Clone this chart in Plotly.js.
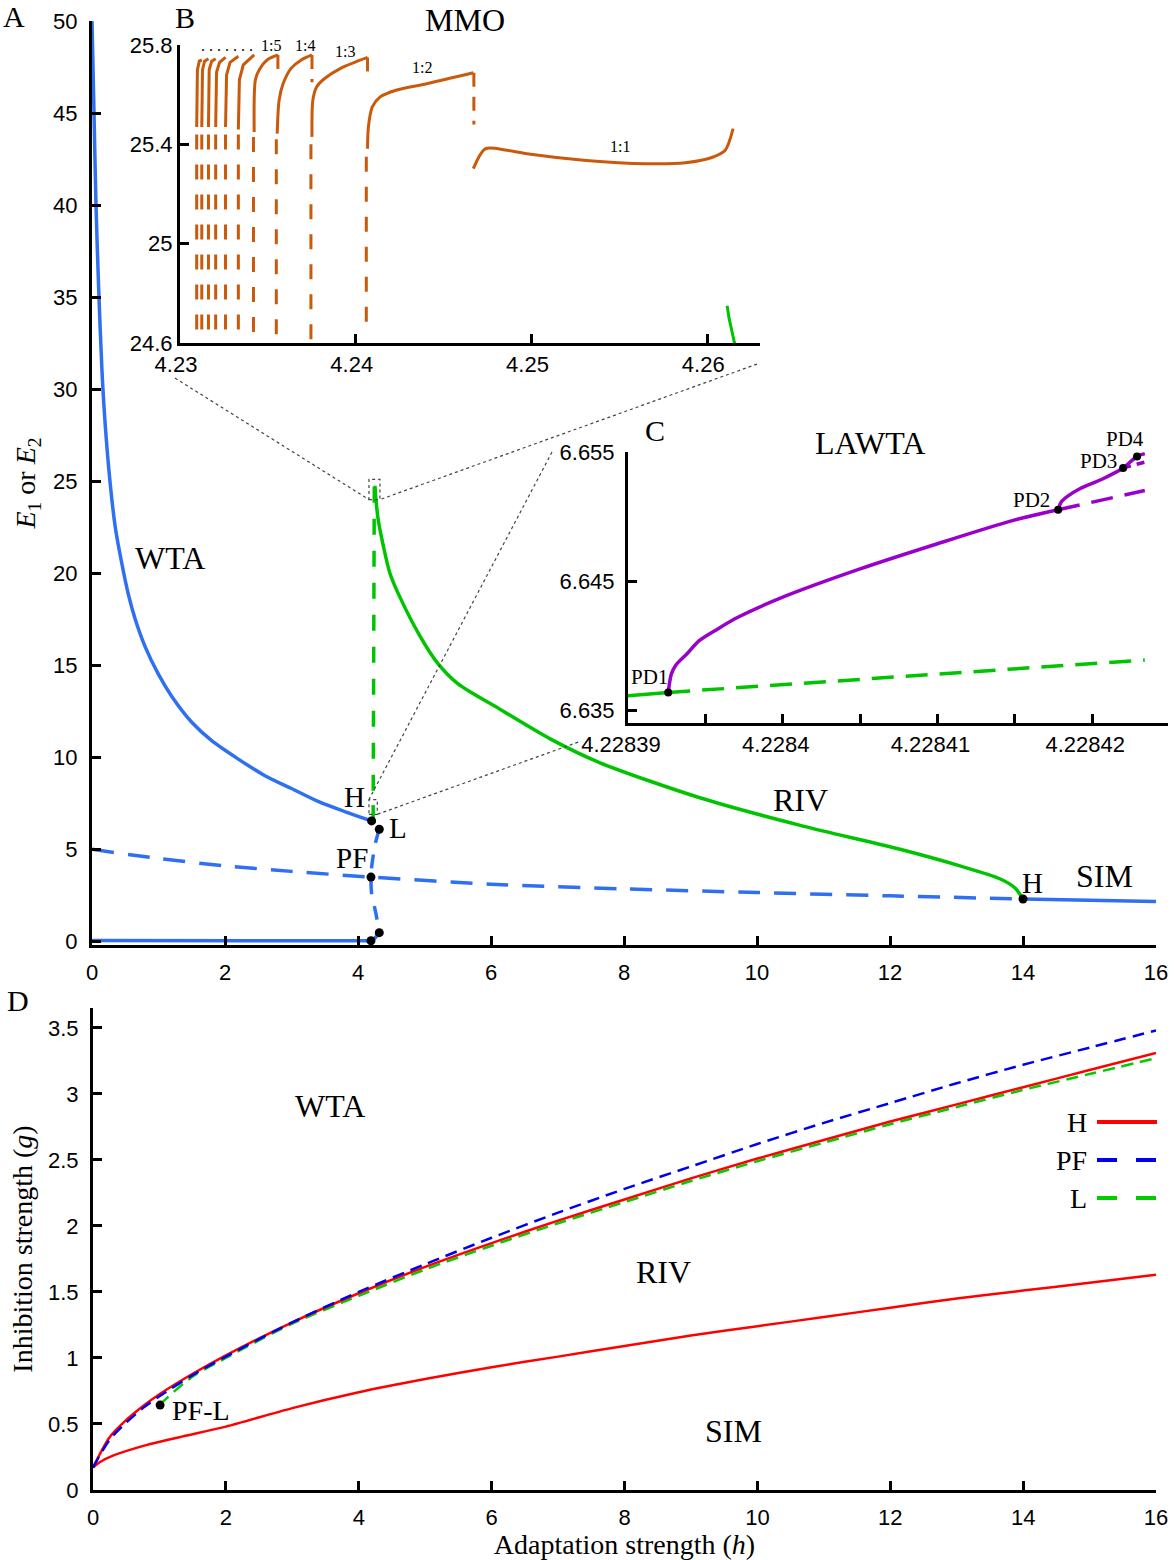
<!DOCTYPE html>
<html><head><meta charset="utf-8">
<script src="https://cdn.plot.ly/plotly-3.0.1.min.js"></script>
<style>html,body{margin:0;padding:0;background:#fff}#plot{width:1176px;height:1560px}</style>
</head><body><div id="plot"></div>
<script>
// ---------- Panel A: E1 or E2 vs h ----------
const wtaH=[0,0.03,0.06,0.1,0.15,0.2,0.27,0.35,0.45,0.55,0.65,0.8,1.0,1.2,1.5,1.8,2.2,2.6,3.0,3.4,3.8,4.205];
const wtaE=[50,45,40,35.5,31,28,25,22.5,20.5,18.8,17.5,16,14.5,13.3,11.9,10.9,9.9,9.0,8.3,7.6,7.05,6.54];
const midH=[0,1,2,3,4.195,6,8,10,12,14];
const midE=[5.0,4.5,4.1,3.8,3.49,3.1,2.85,2.65,2.47,2.3];
const simH=[14,15,16];
const simE=[2.3,2.23,2.17];
const botH=[0,2,4.195,4.26,4.32];
const botE=[0.04,0.04,0.03,0.2,0.47];
const lpfH=[4.32,4.26,4.205,4.195,4.205,4.27,4.32];
const lpfE=[6.09,5.3,4.03,3.49,2.6,1.5,0.47];
const rivH=[4.255,4.27,4.30,4.38,4.48,4.63,4.93,5.2,5.5,6.14,6.89,7.64,9.14,10.65,12.15,13.05,13.65,13.88,14.0];
const rivE=[24.75,24.0,23.0,21.5,20.0,18.7,16.6,15.1,14.0,12.6,11.0,9.7,7.8,6.3,5.0,4.1,3.4,2.9,2.3];
const stemH=[4.245,4.228];
const stemE=[24.7,7.4];
const lawtaH=[4.228,4.228];
const lawtaE=[7.4,6.7];
const bifH=[4.205,4.32,4.195,4.195,4.32,14.0];
const bifE=[6.54,6.09,3.49,0.03,0.47,2.3];
const mainLabels=['WTA','RIV','SIM','H','L','PF','H'];
const mainLabH=[1.17,10.65,15.23,3.95,4.6,3.91,14.15];
const mainLabE=[20.8,7.66,3.53,7.83,6.14,4.51,3.15];

// ---------- Panel B: MMO inset ----------
const mmoSolidH=[
 [4.23095,4.23099,4.23110,4.23124],
 [4.23124,4.23128,4.23140,4.23162],
 [4.23162,4.23166,4.23180,4.23203],
 [4.23203,4.23208,4.23225,4.23259],
 [4.23259,4.23265,4.23285,4.23332],
 [4.23332,4.23338,4.23360,4.23422],
 [4.23422,4.23429,4.23451,4.23496,4.23557],
 [4.23553,4.23564,4.23587,4.23632,4.23688,4.23751],
 [4.23751,4.23756,4.23778,4.23823,4.23914,4.24067],
 [4.24067,4.24072,4.24094,4.24139,4.24229,4.24410,4.24669],
 [4.24669,4.24737,4.24861,4.24974,4.25312,4.25651,4.25876,4.26034,4.26102,4.26147]
];
const mmoSolidE=[
 [25.47,25.70,25.735,25.74],
 [25.47,25.70,25.735,25.745],
 [25.47,25.70,25.735,25.745],
 [25.47,25.69,25.73,25.75],
 [25.47,25.68,25.73,25.755],
 [25.46,25.66,25.72,25.76],
 [25.45,25.66,25.70,25.74,25.76],
 [25.443,25.578,25.645,25.706,25.739,25.760],
 [25.430,25.578,25.632,25.665,25.706,25.750],
 [25.382,25.470,25.551,25.591,25.618,25.645,25.688],
 [25.302,25.382,25.376,25.362,25.335,25.322,25.326,25.349,25.376,25.463]
];
const mmoDropH=[4.23557,4.23751,4.24067,4.24672];
const mmoDropTop=[25.76,25.76,25.75,25.688];
const mmoDropBot=[25.69,25.65,25.686,25.48];
const mmoUnstH=[4.23095,4.23124,4.23162,4.23203,4.23259,4.23332,4.23418,4.23548,4.23745,4.2406];
const mmoUnstTop=[25.44,25.44,25.44,25.44,25.44,25.44,25.43,25.42,25.40,25.35];
const mmoUnstBot=[24.63,24.63,24.63,24.63,24.63,24.63,24.6,24.6,24.6,24.65];
const greenBH=[4.26113,4.26124,4.26158];
const greenBE=[24.75,24.70,24.59];
const ratioLabels=['1:5','1:4','1:3','1:2','1:1'];
const ratioH=[4.23519,4.23711,4.23936,4.24376,4.25504];
const ratioE=[25.797,25.797,25.775,25.708,25.39];

// ---------- Panel C: LAWTA inset ----------
const cGreenSolidH=[4.22839,4.2283926];
const cGreenSolidE=[6.63611,6.63637];
const cGreenDashH=[4.2283926,4.2284234];
const cGreenDashE=[6.63637,6.63888];
const purple1H=[4.2283926,4.2283928,4.2283931,4.2283938,4.2283946,4.2283958,4.2283971,4.2284000,4.2284050,4.2284100,4.2284149,4.2284178];
const purple1E=[6.63637,6.63779,6.63850,6.63935,6.64038,6.64129,6.64219,6.64375,6.64594,6.64789,6.64970,6.65052];
const purple2H=[4.2284178,4.2284180,4.2284184,4.2284192,4.2284207,4.2284220,4.2284229,4.2284234];
const purple2E=[6.65052,6.65112,6.65156,6.65215,6.65293,6.65376,6.65466,6.65487];
const purpleDash1H=[4.2284178,4.2284234];
const purpleDash1E=[6.65052,6.65202];
const purpleDash2H=[4.2284220,4.2284234];
const purpleDash2E=[6.65376,6.65422];
const pdH=[4.2283926,4.2284178,4.2284220,4.2284229];
const pdE=[6.63637,6.65052,6.65376,6.65466];
const pdLabels=['PD1','PD2','PD3','PD4'];
const pdLabH=[4.2283914,4.2284161,4.2284204,4.2284221];
const pdLabE=[6.63754,6.65125,6.65430,6.6549];
const cTickVals=[4.22839,4.2284,4.22841,4.22842];
const cTickText=['4.22839','4.2284','4.22841','4.22842'];
const cMinorVals=[4.228395,4.228405,4.228415];

// ---------- Panel D: two-parameter diagram ----------
const dH=[0,0.25,0.5,0.75,1,1.5,2,3,4,5,6,7,8,9,10,11,12,13,14,15,16];
const hUpperG=[0.17,0.40,0.53,0.635,0.725,0.88,1.02,1.27,1.49,1.69,1.87,2.04,2.20,2.36,2.51,2.65,2.79,2.92,3.05,3.18,3.31];
const pfG=[0.17,0.38,0.51,0.62,0.71,0.87,1.01,1.27,1.50,1.71,1.91,2.10,2.28,2.45,2.62,2.78,2.93,3.08,3.22,3.35,3.48];
const lH=[1,1.5,2,3,4,5,6,7,8,9,10,11,12,13,14,15,16];
const lG=[0.645,0.86,1.0,1.26,1.47,1.67,1.85,2.02,2.18,2.34,2.49,2.63,2.77,2.90,3.03,3.15,3.27];
const hLowH=[0,0.1,0.3,0.8,1.3,2,3,4,5,6,7,8,9,10,11,12,13,14,15,16];
const hLowG=[0.17,0.21,0.26,0.34,0.40,0.48,0.62,0.74,0.84,0.93,1.01,1.09,1.17,1.24,1.31,1.38,1.45,1.51,1.57,1.63];
const pflH=[1.01];
const pflG=[0.643];
const dLabels=['WTA','RIV','SIM'];
const dLabH=[3.57,8.58,9.64];
const dLabG=[2.91,1.65,0.45];

// ---------- styling ----------
const W=1176,HH=1560;
const px=x=>x/W, py=y=>1-y/HH;
const SANS='Liberation Sans, Arial, sans-serif';
const SERIF='Liberation Serif, Times New Roman, serif';
const BLUE='#2f6ff2', GREEN='#00c400', ORANGE='#c95a0c', PURPLE='#9a00cc';
const DASH_MAIN='22px,14px', DASH_B='15px,15px';

const traces=[];
function line(x,y,color,width,dash,xa,ya,smooth){
  const ln={color:color,width:width,dash:dash||'solid'};
  if(smooth){ln.shape='spline';ln.smoothing=0.8;}
  traces.push({type:'scatter',mode:'lines',x:x,y:y,xaxis:xa,yaxis:ya,showlegend:false,hoverinfo:'skip',line:ln});
}
function dots(x,y,xa,ya,size){
  traces.push({type:'scatter',mode:'markers',x:x,y:y,xaxis:xa,yaxis:ya,showlegend:false,cliponaxis:false,hoverinfo:'skip',
    marker:{color:'#000',size:size||9}});
}
// Panel A
line(wtaH,wtaE,BLUE,3.5,null,'x','y',true);
line(midH,midE,BLUE,3.5,DASH_MAIN,'x','y',true);
line(simH,simE,BLUE,3.5,null,'x','y');
line(botH,botE,BLUE,3.5,null,'x','y');
line(lpfH,lpfE,BLUE,3.5,'14px,12px','x','y',true);
line(stemH,stemE,GREEN,3.5,'16px,16px','x','y');
line(lawtaH,lawtaE,GREEN,3.5,null,'x','y');
line(rivH,rivE,GREEN,3.5,null,'x','y',true);
dots(bifH,bifE,'x','y',9);
// Panel B
for(let i=0;i<mmoSolidH.length;i++) line(mmoSolidH[i],mmoSolidE[i],ORANGE,3,null,'x2','y2',i>=6);
(function(){
  const xs=[],ys=[];
  mmoDropH.forEach((h,i)=>{xs.push(h,h,null);ys.push(mmoDropTop[i],mmoDropBot[i],null);});
  line(xs,ys,ORANGE,3,'14px,10px','x2','y2');
  const xv=[],yv=[];
  mmoUnstH.forEach((h,i)=>{xv.push(h,h,null);yv.push(mmoUnstTop[i],mmoUnstBot[i],null);});
  line(xv,yv,ORANGE,3,DASH_B,'x2','y2');
})();
line(greenBH,greenBE,GREEN,3,null,'x2','y2');
// Panel C
line(cGreenSolidH,cGreenSolidE,GREEN,3.5,null,'x3','y3');
line(cGreenDashH,cGreenDashE,GREEN,3.5,'22px,12px','x3','y3');
line(purpleDash1H,purpleDash1E,PURPLE,3.5,'22px,12px','x3','y3');
line(purpleDash2H,purpleDash2E,PURPLE,3.5,'8px,6px','x3','y3');
line(purple1H,purple1E,PURPLE,3.5,null,'x3','y3',true);
line(purple2H,purple2E,PURPLE,3.5,null,'x3','y3',true);
dots(pdH,pdE,'x3','y3',8);
// Panel D
line(hLowH,hLowG,'#ff0000',2.5,null,'x4','y4',true);
line(lH,lG,'#00cc00',2.5,'12px,7px','x4','y4',true);
line(dH,hUpperG,'#ff0000',2.5,null,'x4','y4',true);
line(dH,pfG,'#0000ee',2.5,'12px,7px','x4','y4',true);
dots(pflH,pflG,'x4','y4',9);

function axis(extra){
  return Object.assign({showline:true,linecolor:'#000',linewidth:3,ticks:'inside',ticklen:9,tickwidth:3,tickcolor:'#000',
    showgrid:false,zeroline:false,fixedrange:true,tickfont:{family:SANS,size:22,color:'#000'}},extra);
}
const ann=[];
function txt(text,x,y,xref,yref,size,anchor,extra){
  ann.push(Object.assign({text:text,x:x,y:y,xref:xref,yref:yref,showarrow:false,xanchor:anchor||'center',yanchor:'middle',
    font:{family:SERIF,size:size,color:'#000'}},extra||{}));
}
mainLabels.forEach((t,i)=>txt(t,mainLabH[i],mainLabE[i],'x','y',i<3?32:29));
ratioLabels.forEach((t,i)=>txt(t,ratioH[i],ratioE[i],'x2','y2',16));
txt('. . . . . . .',4.23265,25.797,'x2','y2',16);
pdLabels.forEach((t,i)=>txt(t,pdLabH[i],pdLabE[i],'x3','y3',21,'center',i===3?{yanchor:'bottom'}:{}));
dLabels.forEach((t,i)=>txt(t,dLabH[i],dLabG[i],'x4','y4',32));
txt('PF-L',1.16,0.6,'x4','y4',28,'left');
// panel letters and inset titles
txt('A',px(14),py(17),'paper','paper',30);
txt('B',px(185),py(18),'paper','paper',30);
txt('C',px(655),py(430),'paper','paper',30);
txt('D',px(18),py(1000),'paper','paper',30);
txt('MMO',px(465),py(20),'paper','paper',32);
txt('LAWTA',px(870),py(443),'paper','paper',32);
// legend (text left of line, drawn manually)
const legNames=['H','PF','L'], legColors=['#ff0000','#0000ee','#00cc00'], legDash=['solid','20px,19px','20px,19px'], legY=[1122,1160,1198];
const shapes=[];
legNames.forEach((n,i)=>{
  txt(n,px(1089),py(legY[i]),'paper','paper',28,'right');
  shapes.push({type:'line',xref:'paper',yref:'paper',x0:px(1097),x1:px(1157),y0:py(legY[i]),y1:py(legY[i]),line:{color:legColors[i],width:4,dash:legDash[i]}});
});
// zoom boxes and connectors (in panel A coordinates)
const boxStyle={color:'#444',width:1.2,dash:'dot'};
shapes.push({type:'rect',xref:'x',yref:'y',x0:4.165,x1:4.33,y0:24.0,y1:25.1,line:boxStyle});
shapes.push({type:'rect',xref:'x',yref:'y',x0:4.165,x1:4.29,y0:6.9,y1:7.7,line:boxStyle});
shapes.push({type:'line',xref:'x',yref:'y',x0:1.248,y0:30.6,x1:4.165,y1:24.0,line:boxStyle});
shapes.push({type:'line',xref:'x',yref:'y',x0:10.0,y0:31.36,x1:4.33,y1:24.0,line:boxStyle});
shapes.push({type:'line',xref:'x',yref:'y',x0:6.917,y0:26.58,x1:4.165,y1:7.7,line:boxStyle});
shapes.push({type:'line',xref:'x',yref:'y',x0:7.31,y0:10.82,x1:4.29,y1:6.9,line:boxStyle});

const layout={
  width:W,height:HH,margin:{l:0,r:0,t:0,b:0},paper_bgcolor:'#fff',plot_bgcolor:'rgba(0,0,0,0)',showlegend:false,
  xaxis:axis({domain:[px(92),px(1156)],range:[0,16],tickvals:[0,2,4,6,8,10,12,14,16],anchor:'y',ticklabelstandoff:6}),
  yaxis:axis({domain:[py(945),py(21)],range:[-0.2,50],tickvals:[0,5,10,15,20,25,30,35,40,45,50],anchor:'x',ticklabelstandoff:7,
    title:{text:'<i>E</i><sub>1</sub> or <i>E</i><sub>2</sub>',font:{family:SERIF,size:28,color:'#000'},standoff:10}}),
  xaxis2:axis({domain:[px(180),px(760)],range:[4.23,4.263],tickvals:[4.23,4.24,4.25,4.26],ticktext:['4.23','4.24','4.25','4.26'],anchor:'y2',ticklabelshift:-4}),
  yaxis2:axis({domain:[py(343),py(45)],range:[24.6,25.8],tickvals:[24.6,25,25.4,25.8],ticktext:['24.6','25','25.4','25.8'],anchor:'x2'}),
  xaxis3:axis({domain:[px(628),px(1168)],range:[4.22839,4.2284249],
    tickvals:cTickVals,ticktext:cTickText,anchor:'y3',ticklabelshift:-7,
    minor:{tickvals:cMinorVals,ticks:'inside',ticklen:9,tickwidth:3,tickcolor:'#000',showgrid:false}}),
  yaxis3:axis({domain:[py(723),py(452)],range:[6.634,6.655],tickvals:[6.635,6.645,6.655],ticktext:['6.635','6.645','6.655'],anchor:'x3',ticklabelstandoff:6}),
  xaxis4:axis({domain:[px(93),px(1156)],range:[0,16],tickvals:[0,2,4,6,8,10,12,14,16],anchor:'y4',ticklabelstandoff:6,
    title:{text:'Adaptation strength (<i>h</i>)',font:{family:SERIF,size:28,color:'#000'},standoff:0}}),
  yaxis4:axis({domain:[py(1490),py(1008)],range:[0,3.65],tickvals:[0,0.5,1,1.5,2,2.5,3,3.5],ticktext:['0','0.5','1','1.5','2','2.5','3','3.5'],anchor:'x4',ticklabelstandoff:7,
    title:{text:'Inhibition strength (<i>g</i>)',font:{family:SERIF,size:28,color:'#000'},standoff:8}}),
  annotations:ann,shapes:shapes
};
Plotly.newPlot('plot',traces,layout,{staticPlot:true,displayModeBar:false});
</script></body></html>
